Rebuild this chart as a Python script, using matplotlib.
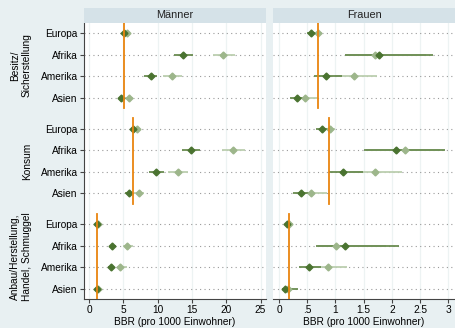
import numpy as np
import matplotlib.pyplot as plt

plt.rcParams['font.family'] = ['Liberation Sans', 'DejaVu Sans']

# Daten (BBR pro 1000 Einwohner)
regionen = ['Europa', 'Afrika', 'Amerika', 'Asien']
gruppen = ['Besitz/\nSicherstellung', 'Konsum', 'Anbau/Herstellung,\nHandel, Schmuggel']

# Männer: dunkle Serie (Wert, unten, oben), helle Serie
m_dunkel = [[5.1, 13.7, 9.0, 4.7], [6.4, 14.8, 9.7, 5.8], [1.2, 3.4, 3.2, 1.2]]
m_dunkel_lo = [[4.9, 12.4, 8.0, 4.3], [6.1, 13.5, 8.8, 5.3], [1.0, 3.0, 2.8, 1.0]]
m_dunkel_hi = [[5.3, 15.2, 9.9, 5.0], [6.7, 16.2, 10.9, 6.4], [1.4, 3.9, 3.7, 1.4]]
m_hell = [[5.5, 19.5, 12.1, 5.8], [7.0, 21.0, 13.0, 7.3], [1.3, 5.6, 4.5, 1.3]]
m_hell_lo = [[5.1, 18.1, 10.8, 5.2], [6.5, 19.4, 11.5, 6.5], [1.0, 5.0, 4.1, 1.0]]
m_hell_hi = [[5.9, 21.3, 13.5, 6.4], [7.5, 22.7, 14.4, 8.0], [1.6, 6.4, 5.5, 1.6]]
m_referenz = [5.1, 6.4, 1.2]

# Frauen
f_dunkel = [[0.56, 1.78, 0.83, 0.32], [0.76, 2.07, 1.14, 0.39], [0.15, 1.17, 0.53, 0.11]]
f_dunkel_lo = [[0.50, 1.17, 0.62, 0.20], [0.66, 1.50, 0.89, 0.24], [0.10, 0.65, 0.36, 0.05]]
f_dunkel_hi = [[0.63, 2.73, 1.11, 0.45], [0.86, 2.94, 1.49, 0.55], [0.20, 2.13, 0.75, 0.34]]
f_hell = [[0.69, 1.71, 1.33, 0.47], [0.91, 2.24, 1.71, 0.56], [0.18, 1.01, 0.87, 0.16]]
f_hell_lo = [[0.62, 1.17, 1.00, 0.36], [0.82, 1.55, 1.25, 0.42], [0.12, 0.70, 0.55, 0.08]]
f_hell_hi = [[0.76, 2.60, 1.73, 0.69], [0.99, 2.85, 2.18, 0.85], [0.24, 1.90, 1.21, 0.25]]
f_referenz = [0.69, 0.89, 0.17]

bg = '#e8f0f2'
kopf = '#d5e2e8'
dunkel = '#4a7330'
dunkel_ci = '#6a8c50'
hell = '#9db68b'
hell_ci = '#bccfb0'
orange = '#e9850f'

abstand = 4.45
ypos = [[g * abstand + r for r in range(4)] for g in range(3)]

fig = plt.figure(figsize=(4.56, 3.28), dpi=100, facecolor=bg)
ax1 = fig.add_axes([84 / 456, 29 / 328, 182 / 456, 276 / 328])
ax2 = fig.add_axes([273 / 456, 29 / 328, 182 / 456, 276 / 328], sharey=ax1)


def panel(ax, d, dlo, dhi, h, hlo, hhi, ref, xlim, ticks, ticklabels, titel):
    ax.set_facecolor('white')
    ax.set_xlim(*xlim)
    ax.set_ylim(12.37, -0.465)
    for t in ticks:
        ax.axvline(t, color='#edf3f3', lw=0.9, zorder=0)
    for g in range(3):
        for r in range(4):
            y = ypos[g][r]
            ax.axhline(y, color='#9a9a9a', lw=0.8, ls=(0, (1, 3)), zorder=1)
            ax.plot([hlo[g][r], hhi[g][r]], [y, y], color=hell_ci, lw=1.3, zorder=2,
                    solid_capstyle='butt')
            ax.plot([dlo[g][r], dhi[g][r]], [y, y], color=dunkel_ci, lw=1.3, zorder=3,
                    solid_capstyle='butt')
            ax.plot(h[g][r], y, marker='D', ms=3.5, color=hell, zorder=4)
            ax.plot(d[g][r], y, marker='D', ms=3.5, color=dunkel, zorder=5)
        mitte = ypos[g][0] + 1.5
        ax.plot([ref[g], ref[g]], [mitte - 1.98, mitte + 1.98], color=orange, lw=1.3, zorder=6)
    ax.set_xticks(ticks)
    ax.set_xticklabels(ticklabels, fontsize=7.3)
    ax.set_xlabel('BBR (pro 1000 Einwohner)', fontsize=7.3, labelpad=1.5)
    for s in ['top', 'right', 'left']:
        ax.spines[s].set_visible(False)
    ax.spines['bottom'].set_color('#444444')
    ax.tick_params(axis='x', length=3, width=0.8, color='#444444', pad=1.5)
    # Kopfleiste
    pos = ax.get_position()
    fig.patches.append(plt.Rectangle((pos.x0, 305 / 328), pos.width, 15 / 328,
                                     transform=fig.transFigure, facecolor=kopf,
                                     edgecolor='none'))
    fig.text(pos.x0 + pos.width / 2, 312.5 / 328, titel, ha='center', va='center',
             fontsize=7.8, color='#222222')


panel(ax1, m_dunkel, m_dunkel_lo, m_dunkel_hi, m_hell, m_hell_lo, m_hell_hi, m_referenz,
      (-0.73, 25.8), [0, 5, 10, 15, 20, 25], ['0', '5', '10', '15', '20', '25'], 'Männer')
panel(ax2, f_dunkel, f_dunkel_lo, f_dunkel_hi, f_hell, f_hell_lo, f_hell_hi, f_referenz,
      (-0.106, 3.12), [0, 0.5, 1, 1.5, 2, 2.5, 3], ['0', '.5', '1', '1.5', '2', '2.5', '3'], 'Frauen')

ax1.spines['left'].set_visible(True)
ax1.spines['left'].set_color('#444444')
ax1.set_yticks([y for g in ypos for y in g])
ax1.set_yticklabels(regionen * 3, fontsize=7.3)
ax1.tick_params(axis='y', length=3, width=0.8, color='#444444', pad=1.5)
ax2.tick_params(axis='y', left=False, labelleft=False)

for g in range(3):
    mitte = ypos[g][0] + 1.5
    yf = ax1.transData.transform((0, mitte))
    yf = fig.transFigure.inverted().transform(yf)[1]
    fig.text(32 / 456, yf, gruppen[g], rotation=90, ha='right', va='center',
             multialignment='center', fontsize=7.3)

fig.savefig('out.png', dpi=100, facecolor=bg)
